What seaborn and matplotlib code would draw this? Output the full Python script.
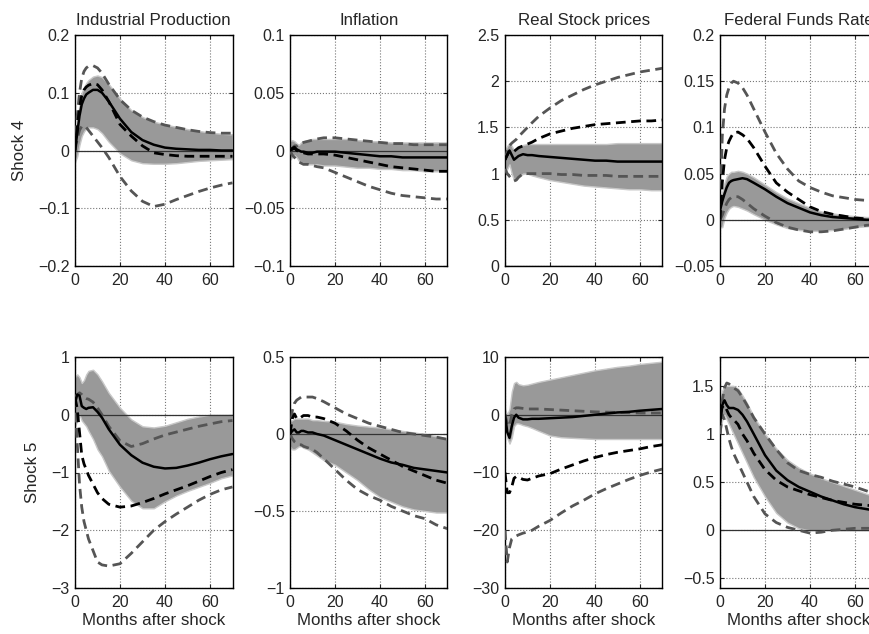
import numpy as np
import pandas as pd
import seaborn as sns
import matplotlib
matplotlib.use("Agg")
import matplotlib.pyplot as plt

months = [0, 1, 2, 3, 4, 5, 6, 8, 10, 12, 15, 20, 25, 30, 35, 40, 45, 50, 55, 60, 65, 70]

titles = ["Industrial Production", "Inflation", "Real Stock prices", "Federal Funds Rate"]
shock_labels = ["Shock 4", "Shock 5"]

# shock 4 -------------------------------------------------------------
ip4_med = [0, 0.03, 0.06, 0.08, 0.09, 0.097, 0.1, 0.105, 0.105, 0.1, 0.085, 0.055, 0.032, 0.018, 0.01, 0.005, 0.003, 0.002, 0.001, 0.001, 0.0, 0.0]
ip4_hi = [0.01, 0.05, 0.08, 0.1, 0.11, 0.117, 0.122, 0.128, 0.13, 0.127, 0.115, 0.09, 0.07, 0.058, 0.05, 0.045, 0.041, 0.037, 0.034, 0.031, 0.029, 0.028]
ip4_lo = [-0.02, -0.01, 0.01, 0.025, 0.033, 0.038, 0.04, 0.04, 0.037, 0.03, 0.015, -0.005, -0.017, -0.022, -0.023, -0.023, -0.022, -0.02, -0.018, -0.017, -0.016, -0.015]
ip4_bk = [0, 0.04, 0.075, 0.095, 0.105, 0.11, 0.113, 0.116, 0.114, 0.105, 0.085, 0.045, 0.025, 0.008, -0.004, -0.007, -0.009, -0.01, -0.01, -0.01, -0.01, -0.01]
ip4_g1 = [0, 0.06, 0.1, 0.125, 0.137, 0.143, 0.146, 0.147, 0.143, 0.134, 0.115, 0.088, 0.07, 0.058, 0.05, 0.044, 0.04, 0.036, 0.033, 0.031, 0.03, 0.03]
ip4_g2 = [0, 0.02, 0.035, 0.042, 0.043, 0.04, 0.035, 0.025, 0.015, 0.005, -0.012, -0.045, -0.07, -0.088, -0.097, -0.093, -0.085, -0.078, -0.071, -0.065, -0.06, -0.056]

inf4_med = [0, 0.002, 0.003, 0.001, 0.0, -0.001, -0.001, -0.002, -0.002, -0.001, -0.001, -0.001, -0.002, -0.003, -0.004, -0.005, -0.005, -0.006, -0.006, -0.006, -0.006, -0.006]
inf4_hi = [0.008, 0.009, 0.008, 0.006, 0.005, 0.007, 0.008, 0.009, 0.01, 0.01, 0.01, 0.01, 0.01, 0.009, 0.008, 0.008, 0.007, 0.007, 0.007, 0.007, 0.007, 0.007]
inf4_lo = [-0.008, -0.006, -0.004, -0.006, -0.009, -0.01, -0.011, -0.012, -0.012, -0.012, -0.013, -0.013, -0.014, -0.015, -0.015, -0.016, -0.016, -0.017, -0.017, -0.018, -0.018, -0.018]
inf4_bk = [0, 0.001, 0.002, 0.0, -0.001, -0.002, -0.002, -0.003, -0.003, -0.003, -0.003, -0.004, -0.006, -0.008, -0.01, -0.012, -0.014, -0.015, -0.016, -0.017, -0.018, -0.018]
inf4_g1 = [0, 0.002, 0.004, 0.004, 0.005, 0.006, 0.007, 0.008, 0.009, 0.01, 0.011, 0.011, 0.01, 0.009, 0.008, 0.007, 0.006, 0.006, 0.005, 0.005, 0.005, 0.005]
inf4_g2 = [0, -0.004, -0.006, -0.008, -0.01, -0.011, -0.012, -0.012, -0.013, -0.014, -0.015, -0.019, -0.023, -0.027, -0.031, -0.034, -0.037, -0.039, -0.04, -0.041, -0.042, -0.042]

sp4_med = [1.15, 1.2, 1.25, 1.2, 1.15, 1.17, 1.19, 1.21, 1.2, 1.2, 1.19, 1.18, 1.17, 1.16, 1.15, 1.14, 1.14, 1.13, 1.13, 1.13, 1.13, 1.13]
sp4_hi = [1.25, 1.3, 1.33, 1.3, 1.25, 1.27, 1.29, 1.31, 1.32, 1.32, 1.32, 1.32, 1.32, 1.32, 1.32, 1.32, 1.32, 1.33, 1.33, 1.33, 1.33, 1.33]
sp4_lo = [1.0, 1.05, 1.1, 1.0, 0.93, 0.93, 0.96, 1.0, 1.0, 0.98, 0.96, 0.93, 0.91, 0.89, 0.87, 0.86, 0.85, 0.84, 0.83, 0.83, 0.82, 0.82]
sp4_bk = [1.15, 1.2, 1.25, 1.25, 1.24, 1.26, 1.28, 1.3, 1.32, 1.34, 1.38, 1.43, 1.46, 1.49, 1.51, 1.53, 1.54, 1.55, 1.56, 1.57, 1.57, 1.58]
sp4_g1 = [1.15, 1.25, 1.3, 1.33, 1.35, 1.37, 1.4, 1.45, 1.5, 1.55, 1.62, 1.71, 1.79, 1.85, 1.91, 1.96, 2.0, 2.04, 2.07, 2.1, 2.12, 2.14]
sp4_g2 = [1.05, 1.0, 0.97, 0.94, 0.92, 0.93, 0.96, 1.0, 1.0, 1.0, 1.0, 1.0, 0.99, 0.99, 0.98, 0.98, 0.98, 0.97, 0.97, 0.97, 0.97, 0.97]

ff4_med = [0.01, 0.02, 0.028, 0.035, 0.04, 0.042, 0.043, 0.044, 0.045, 0.044, 0.04, 0.033, 0.025, 0.018, 0.013, 0.008, 0.005, 0.003, 0.002, 0.001, 0.0, 0.0]
ff4_hi = [0.015, 0.03, 0.04, 0.047, 0.05, 0.052, 0.052, 0.053, 0.052, 0.05, 0.046, 0.038, 0.03, 0.023, 0.018, 0.013, 0.009, 0.007, 0.005, 0.004, 0.003, 0.003]
ff4_lo = [-0.008, -0.008, 0.002, 0.008, 0.012, 0.014, 0.015, 0.014, 0.012, 0.01, 0.006, 0.0, -0.005, -0.009, -0.011, -0.012, -0.012, -0.011, -0.01, -0.008, -0.007, -0.006]
ff4_bk = [0.0, 0.04, 0.065, 0.078, 0.085, 0.09, 0.094, 0.095, 0.092, 0.088, 0.078, 0.058, 0.04, 0.03, 0.022, 0.014, 0.009, 0.006, 0.004, 0.002, 0.001, 0.0]
ff4_g1 = [0.0, 0.09, 0.12, 0.135, 0.143, 0.148, 0.15, 0.148, 0.143, 0.135, 0.12, 0.095, 0.072, 0.055, 0.042, 0.035, 0.03, 0.026, 0.024, 0.022, 0.021, 0.02]
ff4_g2 = [0.0, 0.005, 0.012, 0.018, 0.022, 0.024, 0.025, 0.025, 0.022, 0.018, 0.012, 0.004, -0.003, -0.008, -0.011, -0.013, -0.013, -0.012, -0.01, -0.008, -0.006, -0.005]

# shock 5 -------------------------------------------------------------
ip5_med = [0.2, 0.35, 0.33, 0.15, 0.12, 0.1, 0.12, 0.13, 0.05, -0.05, -0.25, -0.52, -0.7, -0.83, -0.9, -0.93, -0.92, -0.88, -0.83, -0.77, -0.72, -0.68]
ip5_hi = [0.65, 0.7, 0.65, 0.55, 0.6, 0.7, 0.76, 0.78, 0.7, 0.58, 0.38, 0.12, -0.08, -0.2, -0.22, -0.19, -0.13, -0.07, -0.03, 0.0, 0.0, 0.0]
ip5_lo = [-0.2, -0.1, 0.0, -0.1, -0.15, -0.2, -0.28, -0.42, -0.6, -0.72, -0.97, -1.25, -1.49, -1.62, -1.62, -1.5, -1.4, -1.32, -1.25, -1.18, -1.1, -1.05]
ip5_bk = [0.3, 0.1, -0.3, -0.7, -0.85, -0.95, -1.05, -1.2, -1.35, -1.45, -1.55, -1.6, -1.58, -1.52, -1.45, -1.37, -1.3, -1.23, -1.15, -1.07, -1.0, -0.95]
ip5_g1 = [0.3, 0.35, 0.38, 0.35, 0.3, 0.28, 0.27, 0.22, 0.12, 0.0, -0.2, -0.45, -0.55, -0.5, -0.42, -0.35, -0.3, -0.25, -0.2, -0.16, -0.12, -0.1]
ip5_g2 = [0.3, -0.5, -1.2, -1.6, -1.85, -2.0, -2.15, -2.35, -2.55, -2.6, -2.62, -2.58, -2.4, -2.2, -2.0, -1.85, -1.72, -1.6, -1.48, -1.38, -1.3, -1.25]

inf5_med = [0.0, 0.02, 0.03, 0.01, 0.01, 0.02, 0.02, 0.01, 0.01, 0.0, -0.01, -0.04, -0.07, -0.1, -0.13, -0.16, -0.185, -0.2, -0.22, -0.23, -0.24, -0.25]
inf5_hi = [0.08, 0.09, 0.1, 0.1, 0.1, 0.1, 0.1, 0.1, 0.09, 0.09, 0.085, 0.08, 0.065, 0.055, 0.048, 0.042, 0.03, 0.02, 0.01, 0.0, -0.015, -0.03]
inf5_lo = [-0.08, -0.1, -0.1, -0.09, -0.08, -0.08, -0.09, -0.1, -0.12, -0.14, -0.17, -0.2, -0.25, -0.3, -0.36, -0.41, -0.44, -0.47, -0.49, -0.5, -0.51, -0.51]
inf5_bk = [0.0, 0.1, 0.13, 0.1, 0.1, 0.11, 0.12, 0.12, 0.11, 0.11, 0.1, 0.07, 0.02, -0.04, -0.09, -0.13, -0.17, -0.21, -0.24, -0.27, -0.3, -0.32]
inf5_g1 = [0.0, 0.15, 0.2, 0.22, 0.23, 0.24, 0.24, 0.24, 0.24, 0.23, 0.21, 0.17, 0.13, 0.1, 0.07, 0.05, 0.03, 0.01, 0.0, -0.01, -0.02, -0.035]
inf5_g2 = [0.0, -0.03, -0.05, -0.06, -0.07, -0.07, -0.08, -0.09, -0.1, -0.12, -0.16, -0.23, -0.3, -0.36, -0.4, -0.43, -0.47, -0.5, -0.53, -0.55, -0.59, -0.615]

sp5_med = [0, -3, -4, -2, -0.5, 0, -0.5, -0.8, -0.8, -0.7, -0.7, -0.6, -0.5, -0.4, -0.2, 0, 0.2, 0.4, 0.5, 0.7, 0.85, 1.0]
sp5_hi = [1, 0, 1, 4, 5.5, 5.7, 5.3, 5.1, 5.2, 5.4, 5.7, 6.1, 6.5, 6.9, 7.3, 7.7, 8.0, 8.3, 8.5, 8.8, 9.0, 9.2]
sp5_lo = [-1, -4, -5, -4, -2, -1.5, -1.5, -1.8, -2, -2.3, -2.8, -3.6, -3.9, -4.0, -4.1, -4.2, -4.2, -4.2, -4.2, -4.2, -4.2, -4.2]
sp5_bk = [-10, -13.5, -13.5, -12.5, -11, -10.7, -10.8, -11.2, -11.3, -11, -10.6, -10.2, -9.4, -8.7, -8, -7.4, -6.9, -6.5, -6.2, -5.9, -5.5, -5.2]
sp5_g1 = [0, -1.5, -2, 0, 1, 1.2, 1.2, 1.1, 1.0, 1.0, 1.0, 0.9, 0.8, 0.7, 0.6, 0.5, 0.45, 0.4, 0.35, 0.3, 0.3, 0.3]
sp5_g2 = [-20, -25.5, -23, -21.5, -21.2, -21, -20.8, -20.5, -20.3, -20, -19.3, -18.3, -17, -15.8, -14.8, -13.7, -12.8, -12, -11.2, -10.5, -9.9, -9.4]

ff5_med = [1.1, 1.3, 1.35, 1.3, 1.27, 1.27, 1.27, 1.25, 1.2, 1.13, 1.0, 0.78, 0.62, 0.52, 0.45, 0.4, 0.35, 0.31, 0.27, 0.24, 0.22, 0.2]
ff5_hi = [1.3, 1.45, 1.5, 1.5, 1.5, 1.5, 1.5, 1.47, 1.4, 1.32, 1.18, 1.0, 0.85, 0.73, 0.65, 0.59, 0.54, 0.5, 0.46, 0.42, 0.38, 0.34]
ff5_lo = [1.0, 1.15, 1.2, 1.15, 1.1, 1.05, 1.0, 0.9, 0.8, 0.7, 0.55, 0.35, 0.18, 0.08, 0.02, 0.0, 0.0, 0.0, 0.0, 0.0, 0.0, 0.0]
ff5_bk = [1.2, 1.28, 1.3, 1.25, 1.2, 1.17, 1.15, 1.1, 1.0, 0.93, 0.8, 0.63, 0.52, 0.45, 0.41, 0.37, 0.34, 0.31, 0.29, 0.27, 0.26, 0.25]
ff5_g1 = [1.0, 1.35, 1.48, 1.53, 1.52, 1.5, 1.48, 1.45, 1.38, 1.3, 1.17, 1.0, 0.84, 0.7, 0.62, 0.58, 0.55, 0.51, 0.48, 0.45, 0.41, 0.37]
ff5_g2 = [1.0, 1.2, 1.15, 1.05, 0.95, 0.87, 0.8, 0.7, 0.6, 0.5, 0.35, 0.17, 0.08, 0.03, 0.0, -0.03, -0.02, 0.0, 0.01, 0.02, 0.02, 0.02]

panels = [
    [(ip4_med, ip4_hi, ip4_lo, ip4_bk, ip4_g1, ip4_g2),
     (inf4_med, inf4_hi, inf4_lo, inf4_bk, inf4_g1, inf4_g2),
     (sp4_med, sp4_hi, sp4_lo, sp4_bk, sp4_g1, sp4_g2),
     (ff4_med, ff4_hi, ff4_lo, ff4_bk, ff4_g1, ff4_g2)],
    [(ip5_med, ip5_hi, ip5_lo, ip5_bk, ip5_g1, ip5_g2),
     (inf5_med, inf5_hi, inf5_lo, inf5_bk, inf5_g1, inf5_g2),
     (sp5_med, sp5_hi, sp5_lo, sp5_bk, sp5_g1, sp5_g2),
     (ff5_med, ff5_hi, ff5_lo, ff5_bk, ff5_g1, ff5_g2)],
]

ylims = [[(-0.2, 0.2), (-0.1, 0.1), (0, 2.5), (-0.05, 0.2)],
         [(-3, 1), (-1, 0.5), (-30, 10), (-0.6, 1.8)]]
yticks = [[[-0.2, -0.1, 0, 0.1, 0.2], [-0.1, -0.05, 0, 0.05, 0.1], [0, 0.5, 1, 1.5, 2, 2.5], [-0.05, 0, 0.05, 0.1, 0.15, 0.2]],
          [[-3, -2, -1, 0, 1], [-1, -0.5, 0, 0.5], [-30, -20, -10, 0, 10], [-0.5, 0, 0.5, 1, 1.5]]]

sns.set_style("ticks")
plt.rcParams["font.family"] = ["Liberation Sans", "DejaVu Sans"]
plt.rcParams["font.size"] = 10

W, H = 870, 634
fig = plt.figure(figsize=(W / 100, H / 100), dpi=100)

col_left = [75, 290, 505, 720]
row_top = [35, 357]
ax_w, ax_h = 157.5, 231

dash = (0, (3.5, 2))
for r in range(2):
    for c in range(4):
        ax = fig.add_axes([col_left[c] / W, 1 - (row_top[r] + ax_h) / H, ax_w / W, ax_h / H])
        med, hi, lo, bk, g1, g2 = panels[r][c]
        ax.fill_between(months, lo, hi, color="#999999", edgecolor="#c8c8c8", linewidth=1, zorder=1)
        ax.axhline(0, color="#333333", linewidth=0.9, zorder=2)
        sns.lineplot(x=months, y=g1, ax=ax, color="#555555", linewidth=2, linestyle=dash, zorder=3)
        sns.lineplot(x=months, y=g2, ax=ax, color="#555555", linewidth=2, linestyle=dash, zorder=3)
        sns.lineplot(x=months, y=bk, ax=ax, color="black", linewidth=2, linestyle=dash, zorder=4)
        sns.lineplot(x=months, y=med, ax=ax, color="black", linewidth=1.8, zorder=5)

        ax.set_xlim(0, 70)
        ax.set_ylim(*ylims[r][c])
        ax.set_xticks([0, 20, 40, 60])
        ax.set_yticks(yticks[r][c])
        ax.set_yticklabels(["{:g}".format(v).replace("-", "\u2212") for v in yticks[r][c]])
        ax.grid(True, linestyle=":", color="#777777", linewidth=0.8)
        ax.set_axisbelow(True)
        ax.tick_params(direction="in", length=3, labelsize=11.5, top=True, right=True)
        ax.tick_params(axis="x", pad=5)
        ax.tick_params(axis="y", pad=4)
        for s in ax.spines.values():
            s.set_color("black")
            s.set_linewidth(1)
        if r == 0:
            ax.set_title(titles[c], fontsize=12.2, pad=7)
        if r == 1:
            ax.set_xlabel("Months after shock", fontsize=12.2, labelpad=2)
        else:
            ax.set_xlabel("")
        if c == 0:
            ax.set_ylabel(shock_labels[r], fontsize=12.2, labelpad=8)
        else:
            ax.set_ylabel("")

fig.savefig("out.png", dpi=100, facecolor="white")
